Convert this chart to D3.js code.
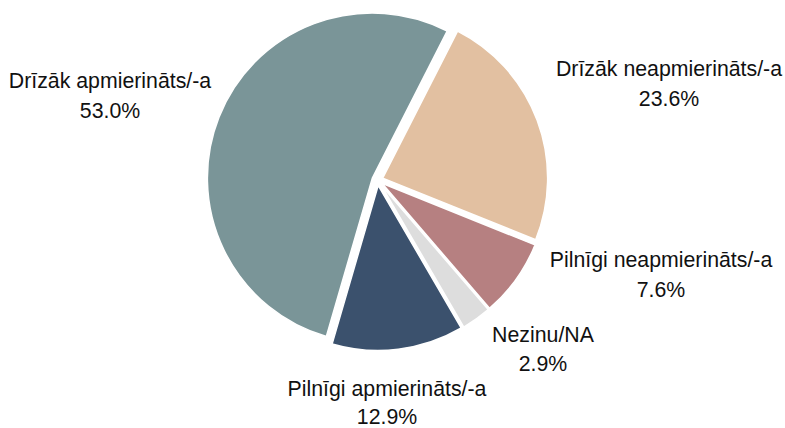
<!DOCTYPE html>
<html>
<head>
<meta charset="utf-8">
<script src="https://cdn.jsdelivr.net/npm/d3@7"></script>
<style>
html,body{margin:0;padding:0;background:#fff;}
svg{display:block;}
</style>
</head>
<body>
<svg id="chart" width="785" height="428"></svg>
<script>
const categories = ["Drīzāk neapmierināts/-a", "Pilnīgi neapmierināts/-a", "Nezinu/NA", "Pilnīgi apmierināts/-a", "Drīzāk apmierināts/-a"];
const values = [23.6, 7.6, 2.9, 12.9, 53.0];
const valueLabels = ["23.6%", "7.6%", "2.9%", "12.9%", "53.0%"];
const colors = ["#e2c0a1", "#b68081", "#dddddd", "#3b516d", "#7a9598"];

// label layout (anchor x, first baseline y, line gap)
const labelLayout = [
  {x: 669, y: 76, gap: 29.5},
  {x: 661, y: 267, gap: 29.5},
  {x: 543, y: 341.5, gap: 29.5},
  {x: 387, y: 396, gap: 27.5},
  {x: 110, y: 88, gap: 29.5}
];

const cx = 377.5, cy = 180, R = 165, explode = 5.5;
const svg = d3.select("#chart");

const pie = d3.pie().sort(null).value(d => d)
  .startAngle(27 * Math.PI / 180)
  .endAngle(27 * Math.PI / 180 + 2 * Math.PI);
const arcs = pie(values);
const arc = d3.arc().innerRadius(0).outerRadius(R);

const g = svg.append("g").attr("transform", `translate(${cx},${cy})`);
g.selectAll("path").data(arcs).join("path")
  .attr("d", arc)
  .attr("fill", (d, i) => colors[i])
  .attr("stroke", "#fff")
  .attr("stroke-width", 1.5)
  .attr("stroke-linejoin", "miter")
  .attr("transform", d => {
    const a = (d.startAngle + d.endAngle) / 2;
    return `translate(${Math.sin(a) * explode},${-Math.cos(a) * explode})`;
  });

const labels = svg.append("g")
  .attr("font-family", "'Liberation Sans', Arial, sans-serif")
  .attr("font-size", "21.3px")
  .attr("fill", "#111")
  .attr("text-anchor", "middle");
categories.forEach((c, i) => {
  const L = labelLayout[i];
  const t = labels.append("text").attr("x", L.x).attr("y", L.y);
  t.append("tspan").attr("x", L.x).attr("y", L.y).text(c);
  t.append("tspan").attr("x", L.x).attr("y", L.y + L.gap).text(valueLabels[i]);
});
</script>
</body>
</html>
